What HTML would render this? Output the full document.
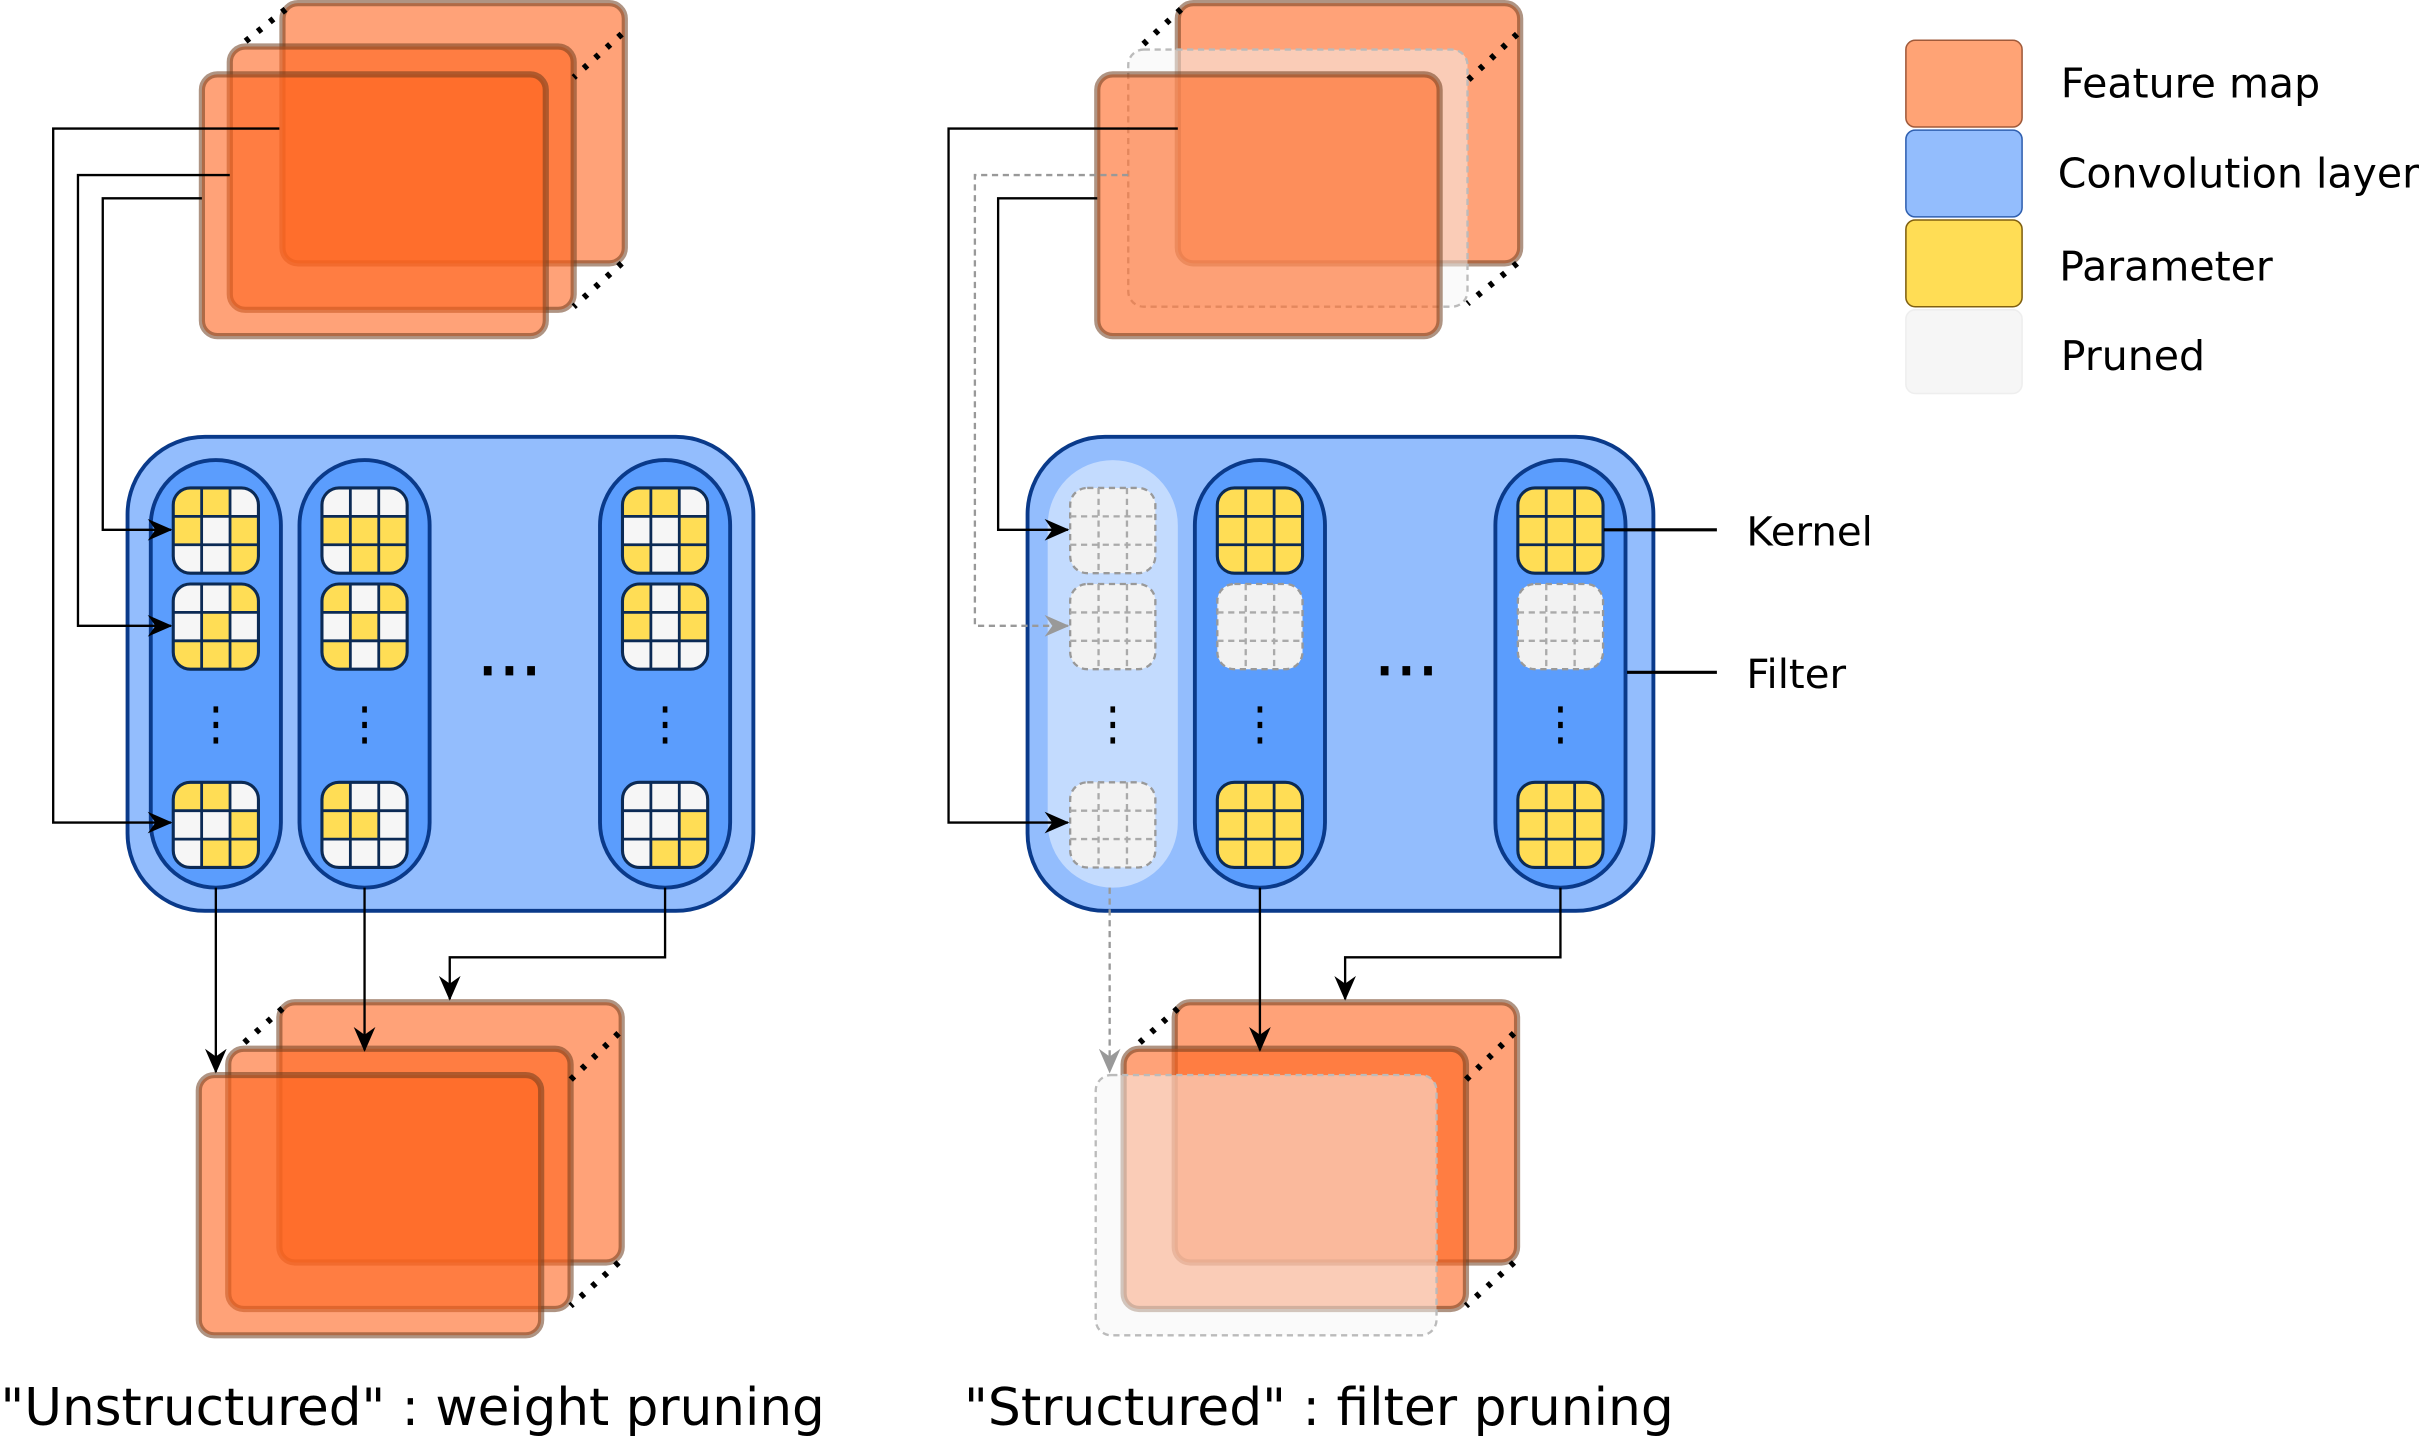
<!DOCTYPE html>
<html><head><meta charset="utf-8"><style>
html,body{margin:0;padding:0;background:#fff;overflow:hidden}
svg{display:block}
text{font-family:"DejaVu Sans","Liberation Sans",sans-serif;fill:#000}
</style></head><body>
<svg id="s" width="2430" height="1436" viewBox="0 0 1568 927" xmlns="http://www.w3.org/2000/svg">
<defs>
<marker id="ah" markerWidth="16" markerHeight="14" refX="15" refY="7" orient="auto" markerUnits="userSpaceOnUse" viewBox="0 0 16 14"><path d="M0,0 L16,7 L0,14 L5,7 Z" fill="#000"/></marker>
<marker id="ahg" markerWidth="16" markerHeight="14" refX="15" refY="7" orient="auto" markerUnits="userSpaceOnUse" viewBox="0 0 16 14"><path d="M0,0 L16,7 L0,14 L5,7 Z" fill="#999"/></marker>
</defs>
<g id="g"></g>
<text x="0" y="920" font-size="33.3">"Unstructured" : weight pruning</text>
<text x="622" y="920" font-size="33.5">"Structured" : filter pruning</text>
<line x1="1035" y1="342" x2="1108" y2="342" stroke="#000" stroke-width="2"/>
<line x1="1050" y1="434" x2="1108" y2="434" stroke="#000" stroke-width="2"/>
<text x="1127" y="352" font-size="26">Kernel</text>
<text x="1127" y="444" font-size="26">Filter</text>
<rect x="1230" y="26" width="75" height="56" rx="6" fill="#ffa375" stroke="#a05a3a" stroke-width="1"/>
<rect x="1230" y="84" width="75" height="56" rx="6" fill="#93bdfd" stroke="#3060b0" stroke-width="1"/>
<rect x="1230" y="142" width="75" height="56" rx="6" fill="#ffdd55" stroke="#806010" stroke-width="1"/>
<rect x="1230" y="200" width="75" height="54" rx="6" fill="#f6f6f6" stroke="#eee" stroke-width="1"/>
<text x="1330" y="63" font-size="26.5">Feature map</text>
<text x="1328" y="121" font-size="26.5">Convolution layer</text>
<text x="1329" y="181" font-size="26.5">Parameter</text>
<text x="1330" y="239" font-size="26.5">Pruned</text>
</svg>
<script>
var g=document.getElementById('g'),h='';
var MF='rgba(255,100,30,0.6)',MS='rgba(110,60,30,0.55)';
function map(x1,y1,x2,y2,pr){
 if(pr) h+='<rect x="'+x1+'" y="'+y1+'" width="'+(x2-x1)+'" height="'+(y2-y1)+'" rx="10" fill="rgba(245,245,245,0.5)" stroke="#bbb" stroke-width="1.5" stroke-dasharray="4,3"/>';
 else h+='<rect x="'+x1+'" y="'+y1+'" width="'+(x2-x1)+'" height="'+(y2-y1)+'" rx="10" fill="'+MF+'" stroke="'+MS+'" stroke-width="4"/>';
}
function dots(x1,y1,x2,y2){h+='<line x1="'+x1+'" y1="'+y1+'" x2="'+x2+'" y2="'+y2+'" stroke="#000" stroke-width="4" stroke-dasharray="3,7"/>';}
function stack(midPr,frontPr,b,m,f){
 map(b[0],b[1],b[2],b[3],false);
 map(m[0],m[1],m[2],m[3],midPr);
 map(f[0],f[1],f[2],f[3],frontPr);
 dots(b[0]+2,b[1]+4,m[0]+6,m[1]);
 dots(b[2]-2,b[1]+20,m[2],m[1]+20);
 dots(b[2]-2,b[3],m[2],m[3]-2);
}
function line(pts,gray){
 var d='M'+pts.map(function(p){return p.join(',')}).join(' L');
 h+='<path d="'+d+'" fill="none" stroke="'+(gray?'#999':'#000')+'" stroke-width="1.5" '+(gray?'stroke-dasharray="4,3" ':'')+'marker-end="url(#'+(gray?'ahg':'ah')+')"/>';
}
function kernel(x,y,pat,pr){
 var s=55,c=s/3;
 if(pr){
  h+='<rect x="'+x+'" y="'+y+'" width="'+s+'" height="'+s+'" rx="11" fill="#f2f2f2" stroke="#999" stroke-width="1.5" stroke-dasharray="4,3"/>';
  for(var i=1;i<3;i++){h+='<line x1="'+(x+i*c)+'" y1="'+y+'" x2="'+(x+i*c)+'" y2="'+(y+s)+'" stroke="#aaa" stroke-width="1.5" stroke-dasharray="4,3"/><line x1="'+x+'" y1="'+(y+i*c)+'" x2="'+(x+s)+'" y2="'+(y+i*c)+'" stroke="#aaa" stroke-width="1.5" stroke-dasharray="4,3"/>';}
  return;
 }
 var id='k'+x+'_'+y;
 h+='<clipPath id="'+id+'"><rect x="'+x+'" y="'+y+'" width="'+s+'" height="'+s+'" rx="11"/></clipPath><g clip-path="url(#'+id+')">';
 for(var r=0;r<3;r++)for(var q=0;q<3;q++){h+='<rect x="'+(x+q*c)+'" y="'+(y+r*c)+'" width="'+(c+0.5)+'" height="'+(c+0.5)+'" fill="'+(pat[r*3+q]=='Y'?'#ffdd55':'#f6f6f6')+'"/>';}
 h+='</g>';
 for(var i=1;i<3;i++){h+='<line x1="'+(x+i*c)+'" y1="'+y+'" x2="'+(x+i*c)+'" y2="'+(y+s)+'" stroke="#0b2a55" stroke-width="1.8"/><line x1="'+x+'" y1="'+(y+i*c)+'" x2="'+(x+s)+'" y2="'+(y+i*c)+'" stroke="#0b2a55" stroke-width="1.8"/>';}
 h+='<rect x="'+x+'" y="'+y+'" width="'+s+'" height="'+s+'" rx="11" fill="none" stroke="#0b2a55" stroke-width="2"/>';
}
function vdots(x){for(var i=0;i<3;i++)h+='<rect x="'+(x-1.5)+'" y="'+(456+i*10)+'" width="3" height="4" fill="#000"/>';}
function block(dx,pats,pruneF1){
 h+='<rect x="'+(82+dx)+'" y="282" width="404" height="306" rx="50" fill="#93bdfd" stroke="#0a3a8a" stroke-width="2.5"/>';
 var fx=pruneF1?[676-dx,771-dx,965-dx]:[97,193,387];
 for(var f=0;f<3;f++){
  var x=fx[f]+dx;
  if(pruneF1&&f==0) h+='<rect x="'+x+'" y="297" width="84" height="276" rx="42" fill="rgba(255,255,255,0.45)" stroke="none"/>';
  else h+='<rect x="'+x+'" y="297" width="84" height="276" rx="42" fill="#5b9dfd" stroke="#0a3a8a" stroke-width="2.5"/>';
  var kx=x+14.5,ys=[315,377,505];
  for(var k=0;k<3;k++){
   var pr=pruneF1&&(f==0||k==1);
   kernel(kx,ys[k],pats?pats[f][k]:'YYYYYYYYY',pr);
  }
  vdots(x+42);
 }
 var cx=pruneF1?912:333;
 for(var i=0;i<3;i++)h+='<rect x="'+(cx-21+i*14)+'" y="430" width="5" height="6" fill="#000"/>';
}
// left
stack(false,false,[182,2,403,170],[148,30,370,200],[130,48,352,217]);
block(0,[["YYWYWYWWY","WWYWYWYYY","YYWWWYWYY"],["WWWYYYWYY","YWYWYWYWY","YWWYYWWWW"],["YYWWWYYWY","YWYYWYWWW","WWWWWYWYY"]],false);
line([[180,83],[34,83],[34,531],[110,531]]);
line([[148,113],[50,113],[50,404],[110,404]]);
line([[130,128],[66,128],[66,342],[110,342]]);
stack(false,false,[180,647,401,815],[147,677,368,845],[128,694,349,862]);
line([[139,573],[139,692]]);
line([[235,573],[235,678]]);
line([[429,573],[429,618],[290,618],[290,645]]);
// right
stack(true,false,[760,2,981,170],[728,32,947,198],[708,48,929,217]);
block(581,null,true);
line([[760,83],[612,83],[612,531],[689,531]]);
line([[728,113],[629,113],[629,404],[689,404]],true);
line([[708,128],[644,128],[644,342],[689,342]]);
stack(false,true,[758,647,979,815],[725,677,946,845],[707,694,927,862]);
line([[716,573],[716,692]],true);
line([[813,573],[813,678]]);
line([[1007,573],[1007,618],[868,618],[868,645]]);
g.innerHTML=h;
</script>
</body></html>
